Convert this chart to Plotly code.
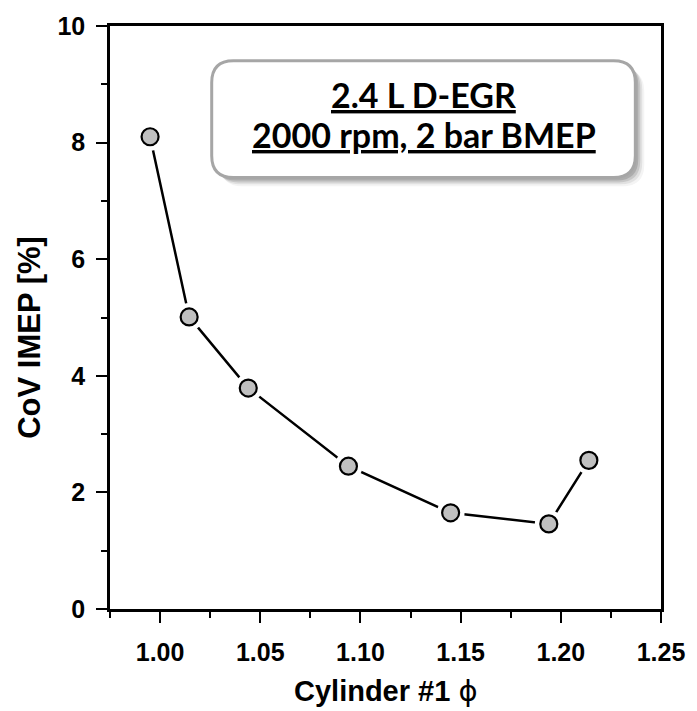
import plotly.graph_objects as go

# Cylinder #1 equivalence ratio vs. combustion stability
phi = [0.995, 1.0145, 1.044, 1.094, 1.145, 1.194, 1.214]
cov_imep = [8.10, 5.01, 3.79, 2.45, 1.65, 1.46, 2.55]

x_ticks = [1.00, 1.05, 1.10, 1.15, 1.20, 1.25]
y_ticks = [0, 2, 4, 6, 8, 10]

W, H = 697, 711
ML, MR, MT, MB = 110, 29, 20, 102
PW, PH = W - ML - MR, H - MT - MB

AX_FONT = "Liberation Sans, Arial, sans-serif"
BOX_FONT = "Lato, Open Sans, sans-serif"

fig = go.Figure()

# connecting line
fig.add_trace(go.Scatter(x=phi, y=cov_imep, mode="lines",
                         line=dict(color="black", width=2.5),
                         hoverinfo="skip", showlegend=False))
# white halo so the line stops short of each marker
fig.add_trace(go.Scatter(x=phi, y=cov_imep, mode="markers",
                         marker=dict(size=28, color="white", line=dict(width=0)),
                         hoverinfo="skip", showlegend=False))
# data markers
fig.add_trace(go.Scatter(x=phi, y=cov_imep, mode="markers",
                         marker=dict(size=17, color="#c0c0c0",
                                     line=dict(color="black", width=2.2)),
                         showlegend=False))


def px2paper(px, py):
    return (px - ML) / PW, (H - MB - py) / PH


def rounded_rect(x0, y0, x1, y1, r):
    """SVG path of a rounded rectangle given in pixel coords, returned in paper coords."""
    def p(x, y):
        u, v = px2paper(x, y)
        return f"{u:.5f},{v:.5f}"
    return (f"M {p(x0 + r, y0)} L {p(x1 - r, y0)} Q {p(x1, y0)} {p(x1, y0 + r)} "
            f"L {p(x1, y1 - r)} Q {p(x1, y1)} {p(x1 - r, y1)} "
            f"L {p(x0 + r, y1)} Q {p(x0, y1)} {p(x0, y1 - r)} "
            f"L {p(x0, y0 + r)} Q {p(x0, y0)} {p(x0 + r, y0)} Z")


bx0, by0, bx1, by1 = 213, 55, 642, 173
shapes = []
# soft drop shadow
for off, op in [(9, 0.08), (7, 0.14), (5, 0.22), (3, 0.30)]:
    shapes.append(dict(type="path", xref="paper", yref="paper",
                       path=rounded_rect(bx0 + off, by0 + off, bx1 + off, by1 + off, 22),
                       fillcolor=f"rgba(110,110,110,{op})", line=dict(width=0),
                       layer="above"))
shapes.append(dict(type="path", xref="paper", yref="paper",
                   path=rounded_rect(bx0, by0, bx1, by1, 22),
                   fillcolor="white", line=dict(color="#a6a6a6", width=3),
                   layer="above"))

annotations = []
cx = (bx0 + bx1) / 2
for text, base_y in [("2.4 L D-EGR", 104), ("2000 rpm, 2 bar BMEP", 144)]:
    u, v = px2paper(cx, base_y)
    annotations.append(dict(xref="paper", yref="paper", x=u, y=v,
                            text=f"<u>{text}</u>", showarrow=False,
                            xanchor="center", yanchor="bottom", yshift=-8,
                            font=dict(family=BOX_FONT, size=34, color="black",
                                      weight="bold")))

# axis titles
u, v = px2paper(29, 335)
annotations.append(dict(xref="paper", yref="paper", x=u, y=v, textangle=-90,
                        text="CoV IMEP [%]", showarrow=False,
                        xanchor="center", yanchor="middle",
                        font=dict(family=AX_FONT, size=31, color="black", weight="bold")))
u, v = px2paper(389, 692)
annotations.append(dict(xref="paper", yref="paper", x=u, y=v,
                        text="Cylinder #1 <span style='font-family:DejaVu Sans;font-weight:normal'>ϕ</span>",
                        showarrow=False, xanchor="center", yanchor="middle",
                        font=dict(family=AX_FONT, size=29, color="black", weight="bold")))

axis_common = dict(showgrid=False, zeroline=False, showline=True, linecolor="black",
                   linewidth=2.5, mirror=True, ticks="outside", ticklen=11,
                   tickwidth=2.2, tickcolor="black",
                   tickfont=dict(family=AX_FONT, size=25, color="black", weight="bold"))

fig.update_xaxes(range=[0.975, 1.25], tickvals=x_ticks,
                 ticktext=[f"{t:.2f}" for t in x_ticks],
                 minor=dict(tick0=0.975, dtick=0.025, ticks="outside", ticklen=6,
                            tickwidth=2.2, tickcolor="black"),
                 ticklabelstandoff=8,
                 **axis_common)
fig.update_yaxes(range=[0, 10], tickvals=y_ticks,
                 minor=dict(tick0=0, dtick=1, ticks="outside", ticklen=6,
                            tickwidth=2.2, tickcolor="black"),
                 ticklabelstandoff=6,
                 **axis_common)

fig.update_layout(width=W, height=H, margin=dict(l=ML, r=MR, t=MT, b=MB),
                  plot_bgcolor="white", paper_bgcolor="white",
                  shapes=shapes, annotations=annotations, showlegend=False)

fig.write_html("out.html")
